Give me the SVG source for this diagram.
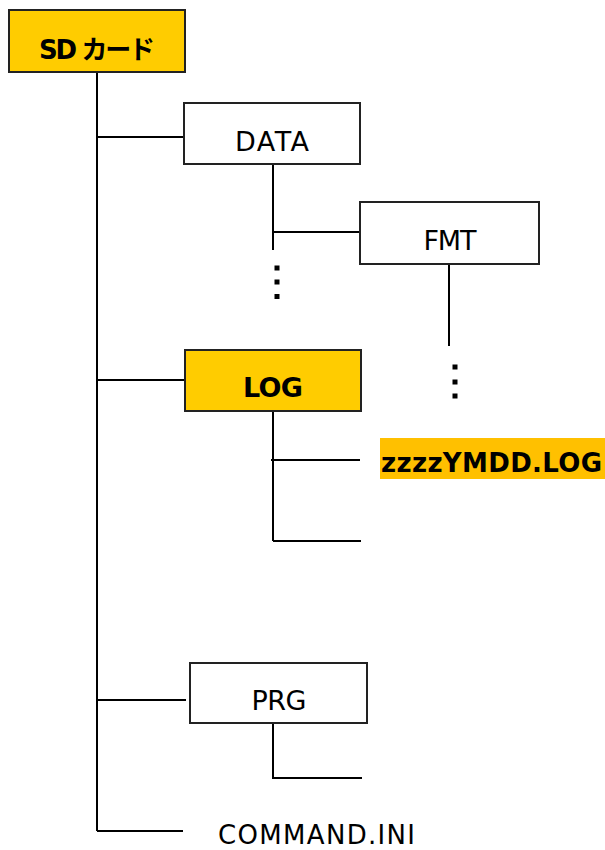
<svg xmlns="http://www.w3.org/2000/svg" width="605" height="850" viewBox="0 0 605 850">
<style>
.box{fill:#fff;stroke:#222;stroke-width:2}
.hl{fill:#FFCC00;stroke:#222;stroke-width:2}
.ln{stroke:#000;stroke-width:2;fill:none}
.t{font-family:"DejaVu Sans","Noto Sans CJK JP",sans-serif;font-size:27px;fill:#000}
.b{font-weight:bold}
.s26{font-size:26px}
.dot{fill:#000}
</style>
<rect width="605" height="850" fill="#fff"/>
<g id="connectors">
<path class="ln" d="M97,72 V831 M97,137 H184 M97,380 H185 M97,700 H186 M97,831 H183"/>
<path class="ln" d="M273,164 V250 M273,232 H360"/>
<path class="ln" d="M449,264 V346"/>
<path class="ln" d="M273,411 V541 M271,460 H360 M273,541 H361"/>
<path class="ln" d="M273,723 V778 H362"/>
</g>
<g id="dots-data">
<rect class="dot" x="274.5" y="265.5" width="5" height="5"/>
<rect class="dot" x="274.5" y="279.5" width="5" height="5"/>
<rect class="dot" x="274.5" y="294" width="5" height="5"/>
</g>
<g id="dots-fmt">
<rect class="dot" x="452.5" y="364.5" width="5" height="5"/>
<rect class="dot" x="452.5" y="379.5" width="5" height="5"/>
<rect class="dot" x="452.5" y="393.5" width="5" height="5"/>
</g>
<g id="sdcard">
<rect class="hl" x="9" y="10" width="176" height="62"/>
<text class="t b s26" x="97" y="59" text-anchor="middle" textLength="116">SD カード</text>
</g>
<g id="data">
<rect class="box" x="184" y="103" width="176" height="61"/>
<text class="t" x="272" y="151" text-anchor="middle" textLength="74">DATA</text>
</g>
<g id="fmt">
<rect class="box" x="360" y="202" width="179" height="62"/>
<text class="t" x="450" y="250" text-anchor="middle" textLength="53">FMT</text>
</g>
<g id="log">
<rect class="hl" x="185" y="350" width="176" height="61"/>
<text class="t b" x="273" y="397" text-anchor="middle" textLength="60">LOG</text>
</g>
<g id="logfile">
<rect x="380" y="438" width="225" height="41" fill="#FFC000"/>
<text class="t b s26" x="381" y="472" textLength="221">zzzzYMDD.LOG</text>
</g>
<g id="prg">
<rect class="box" x="190" y="663" width="177" height="60"/>
<text class="t" x="279" y="710" text-anchor="middle" textLength="55">PRG</text>
</g>
<g id="command">
<text class="t s26" x="218" y="844" textLength="197">COMMAND.INI</text>
</g>
</svg>
